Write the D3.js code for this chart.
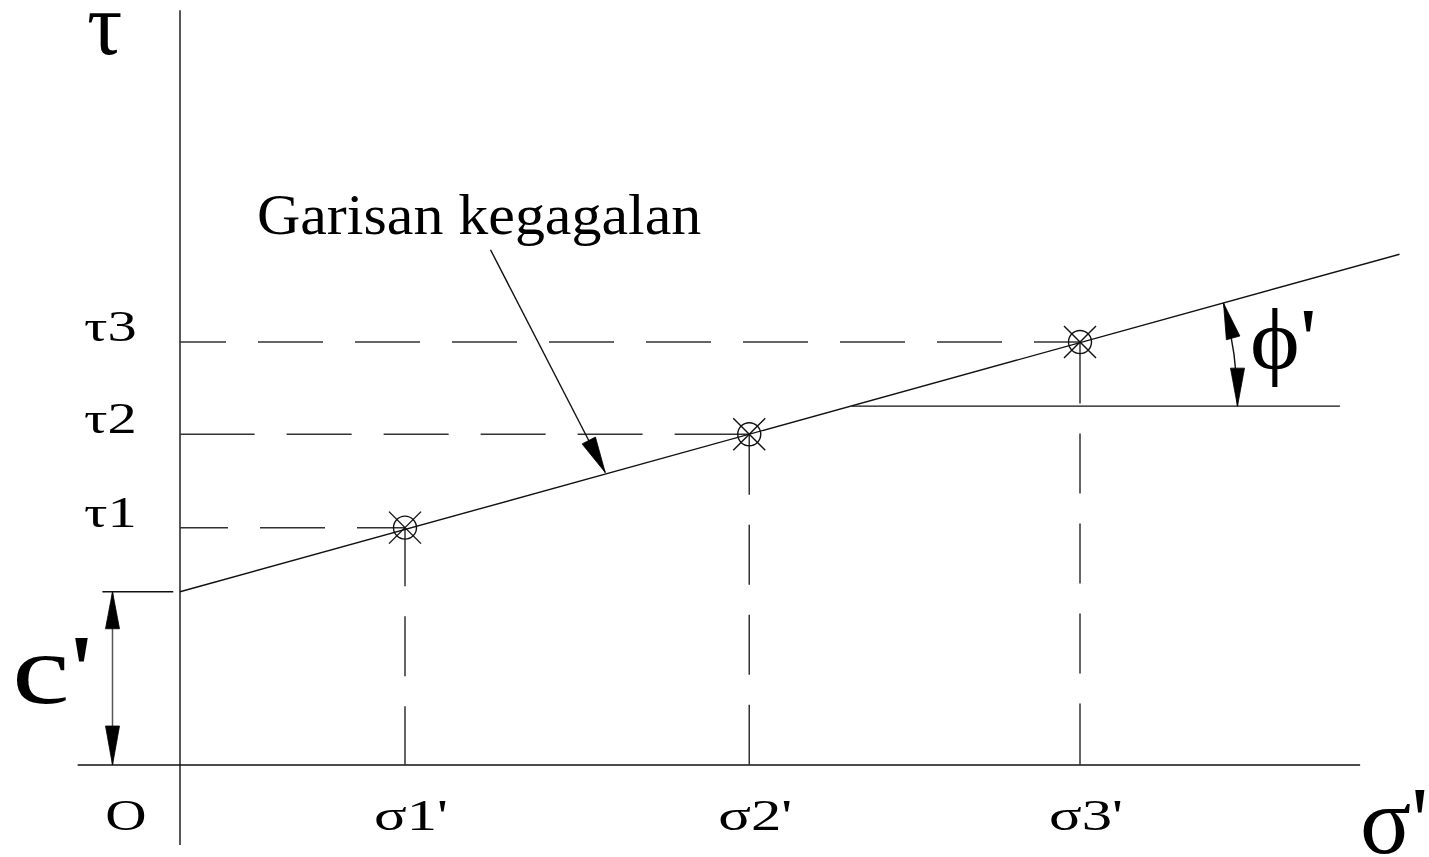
<!DOCTYPE html>
<html lang="en">
  <head>
    <meta charset="utf-8">
    <title>Garisan kegagalan - Mohr-Coulomb</title>
    <script src="https://cdnjs.cloudflare.com/ajax/libs/d3/7.8.5/d3.min.js"></script>
    <style type="text/css">
      html, body { margin: 0; padding: 0; background: #fff; }
      svg { display: block; }
      .lbl { font-family: 'Liberation Serif', 'Times New Roman', serif; fill: #000; }
      .solid { stroke: #111; stroke-width: 1.4; fill: none; }
      .dash { stroke: #333; stroke-width: 1.5; fill: none; }
    </style>
  </head>
  <body>
    <svg id="chart"></svg>
    <script type="text/javascript">
// values (same unit on both axes)
var sigma = [2.0, 5.06, 8.0];
var tau = [2.11, 2.94, 3.76];
var sigmaLabels = ["σ1'", "σ2'", "σ3'"];
var tauLabels = ["τ1", "τ2", "τ3"];
var cohesion = 1.54;
var failureEnd = [10.84, 4.54];     // right end of the failure line (sigma, tau)
var phiRefSigma = [5.97, 10.31];     // horizontal reference line for the angle
var phiRefTau = 3.19;
var phiArcSigma = 9.4;               // where the angle arc meets the reference line
var leaderFrom = [2.76, 4.58];
var leaderTo = [3.78, 2.6];
var xAxisExtent = [-0.91, 10.49];
var yAxisExtent = [-0.71, 6.71];

var w = 1429, h = 857;
var x = d3.scaleLinear().domain([0, 10]).range([180, 1305]);
var y = d3.scaleLinear().domain([0, 10]).range([765, -360]);

var svg = d3.select("#chart").attr("width", w).attr("height", h);

// CAD style dashes: centred pattern that starts and ends with a dash
function cadDash(len, d, g) {
  var n = Math.floor((len - g) / (d + g));
  var e = (len - n * d - (n + 1) * g) / 2;
  while (n > 0 && e < d / 2) { n--; e = (len - n * d - (n + 1) * g) / 2; }
  var arr = [e];
  for (var i = 0; i < n; i++) arr.push(g, d);
  arr.push(g, e, 0);
  return arr.join(" ");
}

function arrowHead(tx, ty, dx, dy, len, half) {
  var l = Math.sqrt(dx * dx + dy * dy);
  var ux = dx / l, uy = dy / l;
  var bx = tx - ux * len, by = ty - uy * len;
  svg.append("path")
    .attr("d", "M" + tx + "," + ty + "L" + (bx - uy * half) + "," + (by + ux * half) +
      "L" + (bx + uy * half) + "," + (by - ux * half) + "Z")
    .attr("fill", "#000").attr("stroke", "#000").attr("stroke-width", 0.8);
}

// axes
svg.append("line").attr("class", "solid")
  .attr("x1", x(xAxisExtent[0])).attr("x2", x(xAxisExtent[1]))
  .attr("y1", y(0)).attr("y2", y(0));
svg.append("line").attr("class", "solid")
  .attr("x1", x(0)).attr("x2", x(0))
  .attr("y1", y(yAxisExtent[0])).attr("y2", y(yAxisExtent[1]));

// dashed projections
sigma.forEach(function(s, i) {
  var lh = x(s) - x(0);
  svg.append("line").attr("class", "dash")
    .attr("x1", x(0)).attr("x2", x(s)).attr("y1", y(tau[i])).attr("y2", y(tau[i]))
    .attr("stroke-dasharray", cadDash(lh, 65, 32));
  var lv = y(0) - y(tau[i]);
  svg.append("line").attr("class", "dash")
    .attr("x1", x(s)).attr("x2", x(s)).attr("y1", y(tau[i])).attr("y2", y(0))
    .attr("stroke-dasharray", cadDash(lv, 60, 30));
});

// failure line
svg.append("line").attr("class", "solid")
  .attr("x1", x(0)).attr("y1", y(cohesion))
  .attr("x2", x(failureEnd[0])).attr("y2", y(failureEnd[1]));

// test points
sigma.forEach(function(s, i) {
  var cx = x(s), cy = y(tau[i]);
  svg.append("circle").attr("class", "solid").attr("cx", cx).attr("cy", cy).attr("r", 11.5);
  [[-1, -1], [1, -1]].forEach(function(v) {
    svg.append("line").attr("class", "solid")
      .attr("x1", cx + v[0] * 16).attr("y1", cy + v[1] * 16)
      .attr("x2", cx - v[0] * 16).attr("y2", cy - v[1] * 16);
  });
});

// reference line for phi and the angle arc
svg.append("line").attr("class", "solid")
  .attr("x1", x(phiRefSigma[0])).attr("x2", x(phiRefSigma[1]))
  .attr("y1", y(phiRefTau)).attr("y2", y(phiRefTau));
var slope = (y(cohesion) - y(failureEnd[1])) / (x(failureEnd[0]) - x(0));
var phi = Math.atan(slope);
var ccx = x(phiRefSigma[0]), ccy = y(phiRefTau);
var rad = x(phiArcSigma) - ccx;
var arc = d3.arc()({ innerRadius: rad, outerRadius: rad, startAngle: Math.PI / 2 - phi, endAngle: Math.PI / 2 });
svg.append("path").attr("class", "solid").attr("d", arc)
  .attr("transform", "translate(" + ccx + "," + ccy + ")");
var topX = ccx + rad * Math.cos(phi), topY = ccy - rad * Math.sin(phi);
arrowHead(topX, topY, -Math.sin(phi), -Math.cos(phi), 36, 7);
arrowHead(ccx + rad, ccy, 0, 1, 38, 7);

// cohesion dimension
svg.append("line").attr("class", "solid")
  .attr("x1", x(-0.69)).attr("x2", x(-0.06)).attr("y1", y(cohesion)).attr("y2", y(cohesion));
svg.append("line").attr("stroke", "#555").attr("stroke-width", 1.5)
  .attr("x1", x(-0.6)).attr("x2", x(-0.6)).attr("y1", y(cohesion)).attr("y2", y(0));
arrowHead(x(-0.6), y(cohesion), 0, -1, 37, 7);
arrowHead(x(-0.6), y(0), 0, 1, 39, 7);

// leader for the failure line label
svg.append("line").attr("class", "solid")
  .attr("x1", x(leaderFrom[0])).attr("y1", y(leaderFrom[1]))
  .attr("x2", x(leaderTo[0])).attr("y2", y(leaderTo[1]));
arrowHead(x(leaderTo[0]), y(leaderTo[1]), x(leaderTo[0]) - x(leaderFrom[0]), y(leaderTo[1]) - y(leaderFrom[1]), 36, 7.5);

// labels (the drawing's font is wider than Times, so stretch a little)
function label(t, px, py, size, anchor, stretch) {
  var el = svg.append("text").attr("class", "lbl").attr("x", px).attr("y", py)
    .attr("text-anchor", anchor || "start").style("font-size", size + "px").text(t);
  if (stretch) {
    var len = el.node().getComputedTextLength();
    el.attr("textLength", len * stretch).attr("lengthAdjust", "spacingAndGlyphs");
  }
  return el;
}
tauLabels.forEach(function(t, i) { label(t, 84, y(tau[i]) - 1, 44, "start", 1.33); });
sigmaLabels.forEach(function(t, i) { label(t, x(sigma[i]) - 31, 830, 44, "start", 1.38); });
label("O", 126, 830, 44, "middle", 1.3);
label("Garisan kegagalan", 257, 234, 56, "start", 1.07);
label("τ", 87, 54, 88);
label("σ'", 1360, 853, 95);
label("c'", 12, 703, 100, "start", 1.3);
label("ϕ'", 1250, 368, 86, "start", 1.1);
    </script>
  </body>
</html>
